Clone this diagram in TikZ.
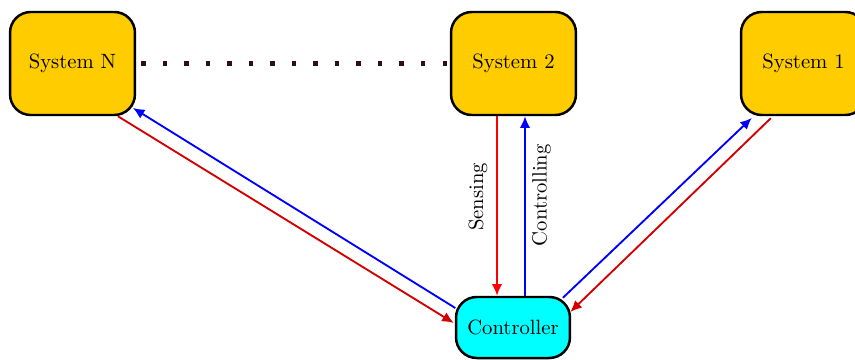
\documentclass[tikz,border=0pt]{standalone}
\usetikzlibrary{arrows.meta,calc}
\definecolor{boxyellow}{RGB}{255,204,0}
\definecolor{boxcyan}{RGB}{0,255,255}
\definecolor{dotcol}{RGB}{45,15,20}
\definecolor{darkred}{RGB}{210,0,0}
\begin{document}
\begin{tikzpicture}[x=0.4835pt,y=-0.4835pt,
  sysbox/.style={draw=black,line width=1.2pt,rounded corners=10pt,fill=boxyellow,
    minimum width=60.4pt,minimum height=49.8pt,inner sep=0pt},
  ctrlbox/.style={draw=black,line width=1.2pt,rounded corners=10pt,fill=boxcyan,
    minimum width=55.1pt,minimum height=29.5pt,inner sep=0pt},
  link/.style={line width=0.9pt,-{Latex[length=5.6pt,width=5pt]}},
  lbl/.style={rotate=90,inner sep=0pt,text=black,anchor=center}]
\useasboundingbox (0,0) rectangle (855,360);

\node[sysbox] (sysN) at (72.5,63.5) {System N};
\node[sysbox] (sys2) at (513.5,63.5) {System 2};
\node[sysbox] (sys1) at (803.5,63.5) {System 1};
\node[ctrlbox] (ctrl) at (513,327.5) {Controller};

% chain of intermediate systems
\draw[dotcol,line width=2pt,dash pattern=on 2pt off 8.4pt,shorten <=2.5pt] (sysN.east) -- (sys2.west);

% System 2 <-> Controller
\draw[link,red] ($(sys2.south)+(-16.5,0)$) -- ($(ctrl.north)+(-16,0)$)
  node[xshift=-9.2pt,lbl,pos=0.45] {Sensing};
\draw[link,blue] ($(ctrl.north)+(12,0)$) -- ($(sys2.south)+(11.5,0)$)
  node[xshift=8pt,lbl,pos=0.56] {Controlling};

% System N <-> Controller
\draw[link,darkred] ($(sysN.south east)+(-18.3,0)$) -- ($(ctrl.west)+(-1,-4.5)$);
\draw[link,blue] ($(ctrl.west)+(0.5,-19.5)$) -- ($(sysN.south east)+(-3.3,-8.3)$);

% System 1 <-> Controller
\draw[link,blue] ($(ctrl.north east)+(-8.3,2)$) -- ($(sys1.south west)+(12,1.7)$);
\draw[link,darkred] ($(sys1.south west)+(31,2)$) -- ($(ctrl.east)+(-1,-15.5)$);
\end{tikzpicture}
\end{document}
